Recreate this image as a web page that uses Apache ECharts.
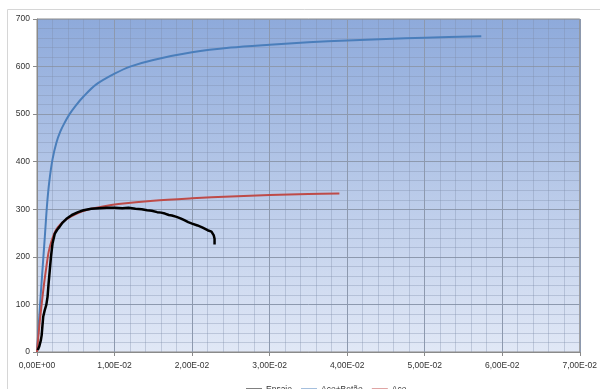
<!DOCTYPE html>
<html>
<head>
<meta charset="utf-8">
<script src="https://cdn.jsdelivr.net/npm/echarts@6/dist/echarts.min.js"></script>
<style>
html,body{margin:0;padding:0;background:#fff;}
#chart{width:600px;height:389px;}
</style>
</head>
<body>
<div id="chart"></div>
<script>
// Series names
const seriesNames = ['Ensaio', 'Aço+Betão', 'Aço'];

// Tick labels
const xTickLabels = ['0,00E+00','1,00E-02','2,00E-02','3,00E-02','4,00E-02','5,00E-02','6,00E-02','7,00E-02'];
const yTickLabels = ['0','100','200','300','400','500','600','700'];

// Ensaio (test) : [strain, stress]
const ensaioX = [0.0001,0.0003,0.0005,0.0006,0.0007,0.0008,0.0010,0.0012,0.00136,0.0015,0.00165,0.0018,0.00195,0.0020,0.0021,0.0023,0.0026,0.0029,0.0033,0.0038,0.0045,0.0053,0.0060,0.0070,0.0080,0.0090,0.0100,0.0110,0.0118,0.0127,0.0135,0.0142,0.0148,0.0155,0.0160,0.0165,0.0170,0.0174,0.0180,0.0185,0.0190,0.0195,0.0200,0.0207,0.0213,0.0220,0.0225,0.0227,0.0228,0.0229,0.0229];
const ensaioY = [4,12,25,35,55,74,88,99,116,145,172,200,221,228,232,249,257,263,272,280,288,294,298,301,302,303,303,302,303,301,300,298,297,294,293,291,288,287,284,281,277,273,270,266,262,256,253,250,245,238,226];

// Aço+Betão : [strain, stress]
const acoBetaoX = [0,0.0005,0.0010,0.0013,0.0016,0.0020,0.0025,0.0030,0.0035,0.0042,0.0050,0.0060,0.0076,0.0100,0.0120,0.0150,0.0200,0.0250,0.0300,0.0350,0.0400,0.0450,0.0500,0.0573];
const acoBetaoY = [0,125,240,310,360,405,440,463,480,500,518,537,562,585,600,614,630,640,646,651,655,658,660.5,664];

// Aço : [strain, stress]
const acoX = [0,0.0003,0.0006,0.0009,0.0012,0.0015,0.0019,0.0024,0.0030,0.0038,0.0050,0.0065,0.0085,0.0105,0.0150,0.0200,0.0250,0.0300,0.0350,0.0390];
const acoY = [0,55,100,142,178,210,235,255,268,279,290,299,306,311,318,323,327,330,332,333];

const zip = (xs, ys) => xs.map((x, i) => [x, ys[i]]);

const chart = echarts.init(document.getElementById('chart'));
const labelFont = {fontFamily: 'Liberation Sans, Arial, sans-serif', fontSize: 8.5, color: '#333333'};

chart.setOption({
  animation: false,
  backgroundColor: '#ffffff',
  graphic: [{
    type: 'rect', silent: true,
    shape: {x: 7.5, y: 9.5, width: 620, height: 420},
    style: {fill: 'none', stroke: '#d6d6d6', lineWidth: 1}
  }],
  grid: {
    left: 37, right: 14, top: 19, bottom: 37,
    show: true,
    borderColor: '#8a8a8a', borderWidth: 1,
    backgroundColor: new echarts.graphic.LinearGradient(0, 0, 0, 1, [
      {offset: 0, color: '#8eaadb'},
      {offset: 1, color: '#e1e8f6'}
    ])
  },
  legend: {
    left: 241, top: 380,
    icon: 'rect', itemWidth: 16, itemHeight: 2, itemGap: 9,
    textStyle: Object.assign({}, labelFont, {padding: [0, 0, 0, -1]}),
    data: seriesNames
  },
  xAxis: {
    type: 'value', min: 0, max: 0.07, interval: 0.01,
    axisLine: {show: true, onZero: false, lineStyle: {color: '#8a8a8a'}},
    axisTick: {show: true, length: 4, lineStyle: {color: '#8a8a8a'}},
    axisLabel: Object.assign({}, labelFont, {margin: 9, formatter: (v, i) => xTickLabels[Math.round(v / 0.01)]}),
    splitLine: {show: true, lineStyle: {color: '#8d99ae', width: 1}},
    minorTick: {show: false, splitNumber: 5},
    minorSplitLine: {show: true, lineStyle: {color: 'rgba(125,140,170,0.35)', width: 1}}
  },
  yAxis: {
    type: 'value', min: 0, max: 700, interval: 100,
    axisLine: {show: true, lineStyle: {color: '#8a8a8a'}},
    axisTick: {show: true, length: 4, lineStyle: {color: '#8a8a8a'}},
    axisLabel: Object.assign({}, labelFont, {margin: 7, formatter: (v) => yTickLabels[Math.round(v / 100)]}),
    splitLine: {show: true, lineStyle: {color: '#8d99ae', width: 1}},
    minorTick: {show: false, splitNumber: 5},
    minorSplitLine: {show: true, lineStyle: {color: 'rgba(125,140,170,0.35)', width: 1}}
  },
  series: [
    {
      name: seriesNames[0], type: 'line', data: zip(ensaioX, ensaioY),
      symbol: 'none', smooth: false, z: 4,
      lineStyle: {color: '#000000', width: 2.5}, itemStyle: {color: '#000000'}
    },
    {
      name: seriesNames[1], type: 'line', data: zip(acoBetaoX, acoBetaoY),
      symbol: 'none', smooth: 0.3, z: 3,
      lineStyle: {color: '#4a7ebb', width: 2}, itemStyle: {color: '#4a7ebb'}
    },
    {
      name: seriesNames[2], type: 'line', data: zip(acoX, acoY),
      symbol: 'none', smooth: 0.3, z: 3,
      lineStyle: {color: '#be4b48', width: 2}, itemStyle: {color: '#be4b48'}
    }
  ]
});
</script>
</body>
</html>
